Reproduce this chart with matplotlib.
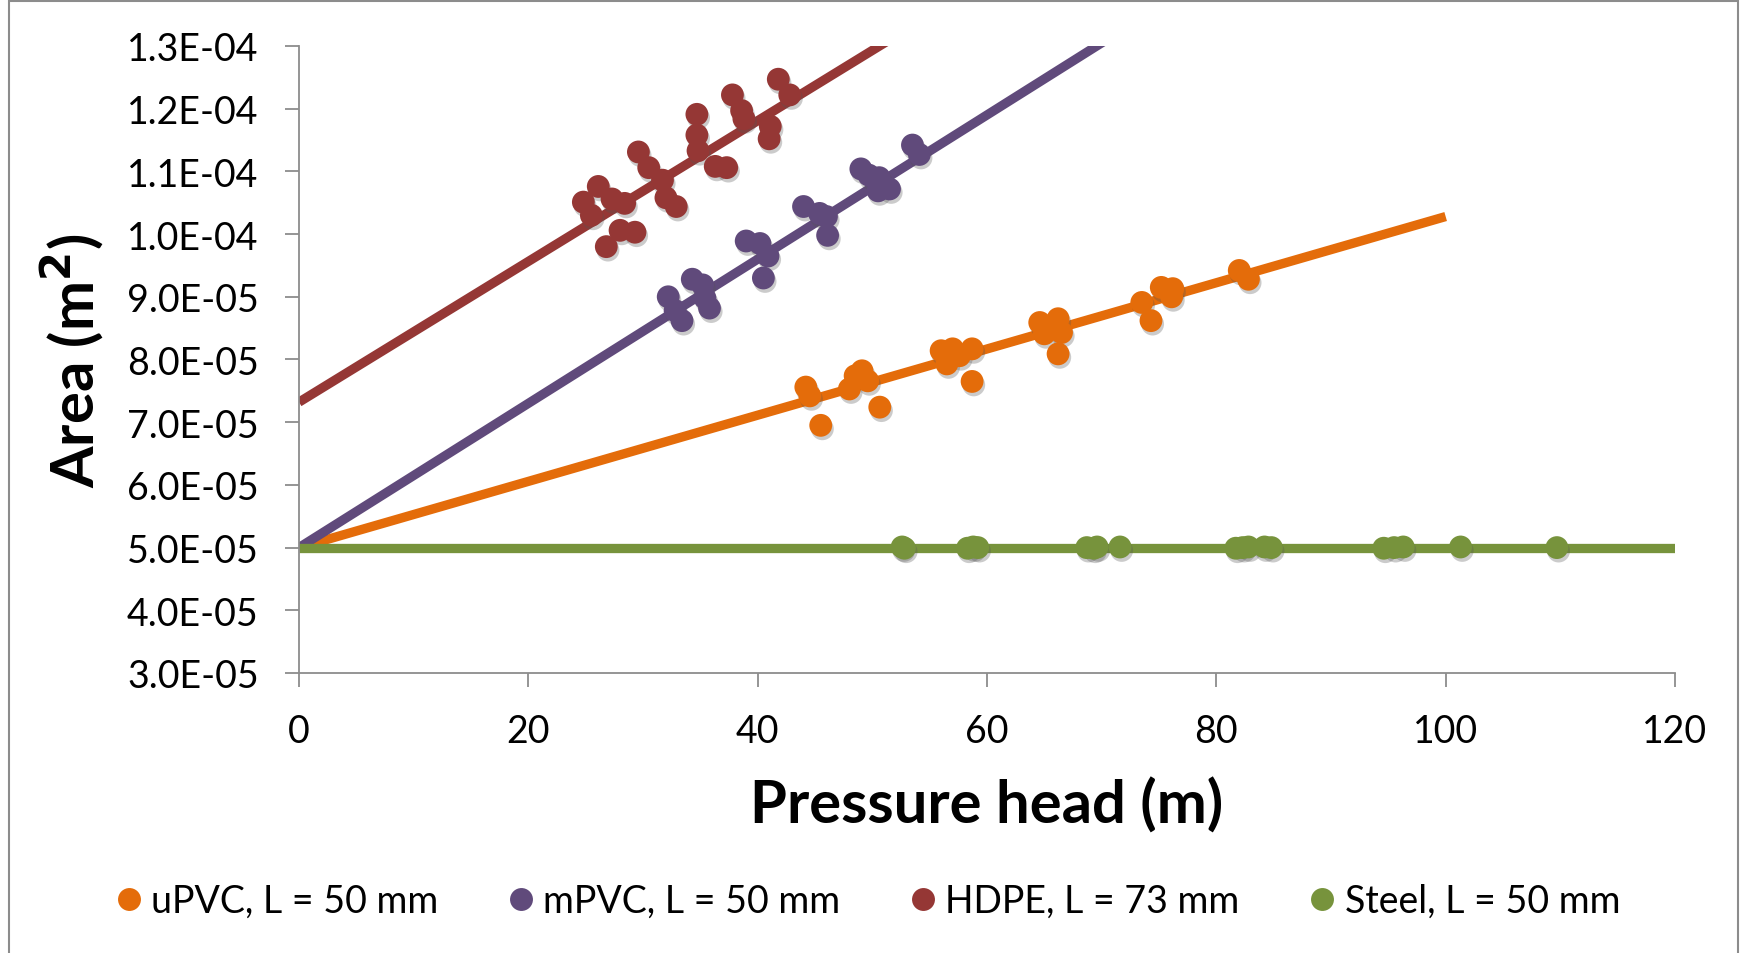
import matplotlib
matplotlib.use("Agg")
import matplotlib.pyplot as plt
import matplotlib.patheffects as pe
from matplotlib.lines import Line2D
from matplotlib.patches import Rectangle
from matplotlib.ticker import FuncFormatter, MultipleLocator

plt.rcParams['font.family'] = ['Lato', 'DejaVu Sans']

# ---- data ----
series_names = ["uPVC, L = 50 mm", "mPVC, L = 50 mm", "HDPE, L = 73 mm", "Steel, L = 50 mm"]
series_colors = ["#E46C0A", "#604A7B", "#953735", "#77933C"]

upvc_x = [44.2, 44.55, 45.5, 48.0, 48.5, 49.1, 49.6, 50.65, 56.0, 56.5, 57.0, 57.6, 58.7, 58.7,
          64.6, 65.0, 66.2, 66.5, 66.2, 73.5, 74.3, 75.2, 76.2, 76.1, 82.0, 82.8]
upvc_y = [7.56e-5, 7.42e-5, 6.95e-5, 7.53e-5, 7.74e-5, 7.82e-5, 7.66e-5, 7.24e-5, 8.14e-5, 7.93e-5,
          8.17e-5, 8.06e-5, 8.17e-5, 7.65e-5, 8.59e-5, 8.41e-5, 8.65e-5, 8.43e-5, 8.09e-5, 8.91e-5,
          8.62e-5, 9.15e-5, 9.13e-5, 9.00e-5, 9.42e-5, 9.28e-5]

mpvc_x = [32.2, 32.8, 33.4, 34.3, 35.2, 35.4, 35.8, 39.0, 40.2, 40.9, 40.5, 44.0, 45.4, 46.0, 46.1,
          49.0, 49.7, 50.6, 50.5, 51.5, 53.5, 54.1]
mpvc_y = [9.00e-5, 8.78e-5, 8.62e-5, 9.28e-5, 9.19e-5, 8.98e-5, 8.82e-5, 9.89e-5, 9.85e-5, 9.65e-5,
          9.30e-5, 1.044e-4, 1.033e-4, 1.028e-4, 0.998e-4, 1.104e-4, 1.094e-4, 1.090e-4, 1.069e-4,
          1.072e-4, 1.142e-4, 1.127e-4]

hdpe_x = [24.8, 25.5, 26.1, 27.3, 28.4, 26.8, 28.0, 29.3, 29.6, 30.5, 31.7, 32.0, 32.9, 34.7, 34.7,
          34.8, 36.3, 37.3, 37.8, 38.6, 38.8, 41.1, 41.0, 41.8, 42.8]
hdpe_y = [1.051e-4, 1.030e-4, 1.076e-4, 1.056e-4, 1.049e-4, 0.980e-4, 1.006e-4, 1.003e-4, 1.131e-4,
          1.106e-4, 1.086e-4, 1.058e-4, 1.044e-4, 1.191e-4, 1.158e-4, 1.133e-4, 1.108e-4, 1.106e-4,
          1.222e-4, 1.197e-4, 1.184e-4, 1.172e-4, 1.152e-4, 1.247e-4, 1.222e-4]

steel_x = [52.6, 52.8, 58.3, 58.8, 59.2, 68.7, 69.3, 69.6, 71.6, 81.7, 82.3, 82.8, 84.2, 84.8,
           94.6, 95.5, 96.3, 101.3, 109.7]
steel_y = [5.01e-5, 4.99e-5, 4.99e-5, 5.01e-5, 5.00e-5, 5.00e-5, 4.99e-5, 5.01e-5, 5.01e-5,
           4.99e-5, 5.00e-5, 5.01e-5, 5.01e-5, 5.00e-5, 4.99e-5, 5.00e-5, 5.01e-5, 5.01e-5, 5.00e-5]

# trend lines: intercept, slope, x-range end
trend_intercept = [5.0e-5, 5.0e-5, 7.32e-5, 5.0e-5]
trend_slope = [5.28e-7, 1.15e-6, 1.122e-6, 0.0]
trend_xend = [100.0, 75.0, 55.0, 120.0]

x_ticks = [0, 20, 40, 60, 80, 100, 120]

# ---- figure ----
W, H = 1750, 954
fig = plt.figure(figsize=(W / 100, H / 100), dpi=100)
ax = fig.add_axes([299 / W, 1 - 674 / H, (1675 - 299) / W, (674 - 47) / H])

xs_all = [upvc_x, mpvc_x, hdpe_x, steel_x]
ys_all = [upvc_y, mpvc_y, hdpe_y, steel_y]

shadow = [pe.SimplePatchShadow(offset=(1.2, -2.5), shadow_rgbFace='#555555', alpha=0.3), pe.Normal()]

for i in range(4):
    xe = trend_xend[i]
    ax.plot([0, xe], [trend_intercept[i], trend_intercept[i] + trend_slope[i] * xe],
            color=series_colors[i], lw=6.7, solid_capstyle='butt', zorder=2)
for i in range(4):
    ax.scatter(xs_all[i], ys_all[i], s=270, color=series_colors[i], edgecolors='none',
               zorder=3, path_effects=shadow)

ax.set_xlim(0, 120)
ax.set_ylim(3.0e-5, 1.3e-4)
ax.set_xticks(x_ticks)
ax.yaxis.set_major_locator(MultipleLocator(1e-5))
ax.yaxis.set_major_formatter(FuncFormatter(lambda v, p: f"{v:.1E}"))

for s in ['top', 'right']:
    ax.spines[s].set_visible(False)
for s in ['left', 'bottom']:
    ax.spines[s].set_color('#8C8C8C')
    ax.spines[s].set_linewidth(1.3)
ax.tick_params(axis='both', direction='out', length=10, width=1.3, color='#8C8C8C',
               labelsize=27, labelcolor='black')
ax.tick_params(axis='y', pad=19)
ax.tick_params(axis='x', pad=19)

ax.set_xlabel("Pressure head (m)", fontsize=43, fontweight='bold')
ax.xaxis.set_label_coords(0.5, (674 - 806) / (674 - 47))
ax.xaxis.label.set_va('center')
ax.set_ylabel("Area (m$^\\mathbf{2}$)", fontsize=43, fontweight='bold')
ax.yaxis.set_label_coords((72 - 299) / (1675 - 299), 0.5)
ax.yaxis.label.set_va('center')

handles = [Line2D([], [], ls='none', marker='o', markersize=16.5, color=c, markeredgecolor='none')
           for c in series_colors]
fig.legend(handles, series_names, loc='center', bbox_to_anchor=(0.5 - 10 / W, 1 - 902 / H), ncol=4,
           frameon=False, fontsize=27, handletextpad=0.1, columnspacing=1.7, handlelength=1.0)

fig.patches.append(Rectangle((9 / W, -0.05), (1738 - 9) / W, 1.05 - 2 / H, transform=fig.transFigure,
                             fill=False, edgecolor='#8C8C8C', lw=1.5))

fig.savefig("out.png", dpi=100)
